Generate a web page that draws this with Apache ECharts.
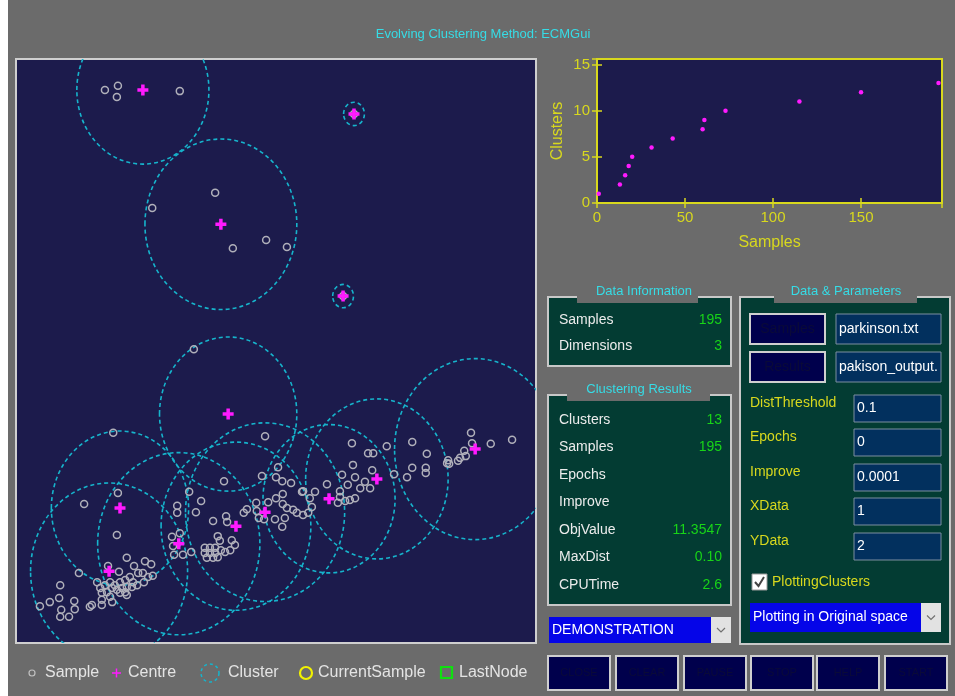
<!DOCTYPE html>
<html>
<head>
<meta charset="utf-8">
<title>ECMGui</title>
<script src="https://cdn.jsdelivr.net/npm/echarts@6/dist/echarts.min.js"></script>
<style>
  html, body { margin: 0; padding: 0; background: #fff; }
  #chart { width: 955px; height: 696px; }
</style>
</head>
<body>
<div id="chart"></div>
<script>
// samples (normalised feature 1 / feature 2)
const sampleX = [
  0.171, 0.196, 0.194, 0.315, 0.383, 0.262, 0.417, 0.481, 0.521, 0.650, 0.629, 0.342, 0.187, 0.479,
  0.196, 0.131, 0.194, 0.400, 0.333, 0.356, 0.310, 0.310, 0.346, 0.379, 0.404, 0.406, 0.300, 0.315,
  0.302, 0.304, 0.321, 0.337, 0.388, 0.392, 0.415, 0.421, 0.412, 0.363, 0.373, 0.383, 0.363, 0.373,
  0.383, 0.394, 0.402, 0.367, 0.379, 0.388,
  0.473, 0.500, 0.504, 0.512, 0.529, 0.462, 0.485, 0.500, 0.513, 0.513, 0.521, 0.533, 0.540, 0.552,
  0.562, 0.550, 0.438, 0.444, 0.463, 0.467, 0.477, 0.498, 0.517, 0.512,
  0.213, 0.248, 0.260, 0.227, 0.177, 0.121, 0.198, 0.219, 0.235, 0.244, 0.254, 0.263, 0.225, 0.246,
  0.156, 0.162, 0.171, 0.181, 0.190, 0.200, 0.210, 0.165, 0.175, 0.185, 0.194, 0.204, 0.213, 0.223,
  0.233, 0.200, 0.210, 0.181, 0.165, 0.185, 0.213, 0.085, 0.083, 0.065, 0.046, 0.112, 0.113, 0.087,
  0.085, 0.102, 0.146, 0.142, 0.165,
  0.646, 0.713, 0.762, 0.677, 0.687, 0.790, 0.648, 0.685, 0.727, 0.762, 0.752, 0.788, 0.788, 0.627,
  0.652, 0.671, 0.662, 0.681, 0.638, 0.598, 0.623, 0.623, 0.552, 0.575, 0.565, 0.652, 0.642, 0.633,
  0.619, 0.569,
  0.875, 0.877, 0.913, 0.954, 0.862, 0.865, 0.854, 0.850, 0.831, 0.833, 0.829
];
const sampleY = [
  0.947, 0.954, 0.935, 0.945, 0.771, 0.745, 0.676, 0.690, 0.678, 0.906, 0.594, 0.503, 0.360, 0.354,
  0.257, 0.238, 0.185, 0.277, 0.259, 0.243, 0.235, 0.223, 0.224, 0.209, 0.217, 0.207, 0.182, 0.188,
  0.166, 0.151, 0.151, 0.156, 0.183, 0.175, 0.176, 0.168, 0.159, 0.163, 0.163, 0.163, 0.154, 0.154,
  0.154, 0.159, 0.156, 0.146, 0.146, 0.147,
  0.286, 0.284, 0.301, 0.277, 0.274, 0.240, 0.241, 0.248, 0.255, 0.238, 0.231, 0.228, 0.223, 0.219,
  0.223, 0.259, 0.223, 0.229, 0.226, 0.214, 0.212, 0.212, 0.214, 0.199,
  0.146, 0.140, 0.135, 0.132, 0.132, 0.120, 0.122, 0.113, 0.120, 0.120, 0.113, 0.115, 0.104, 0.104,
  0.104, 0.094, 0.099, 0.104, 0.099, 0.104, 0.108, 0.086, 0.087, 0.094, 0.091, 0.094, 0.096, 0.096,
  0.099, 0.086, 0.087, 0.079, 0.074, 0.070, 0.082, 0.099, 0.077, 0.070, 0.063, 0.072, 0.058, 0.057,
  0.045, 0.045, 0.065, 0.062, 0.065,
  0.342, 0.337, 0.344, 0.325, 0.325, 0.324, 0.305, 0.296, 0.289, 0.300, 0.284, 0.300, 0.291, 0.288,
  0.284, 0.276, 0.265, 0.265, 0.271, 0.272, 0.260, 0.250, 0.260, 0.259, 0.248, 0.248, 0.245, 0.243,
  0.240, 0.233,
  0.360, 0.342, 0.341, 0.348, 0.329, 0.320, 0.317, 0.312, 0.313, 0.307, 0.308
];

// cluster centres + radius
const centreX = [0.244, 0.394, 0.650, 0.629, 0.408, 0.200, 0.179, 0.313, 0.423, 0.479, 0.602, 0.694, 0.883];
const centreY = [0.947, 0.717, 0.906, 0.594, 0.392, 0.231, 0.123, 0.170, 0.200, 0.224, 0.247, 0.281, 0.332];
const clusterRadius = [0.127, 0.146, 0.020, 0.020, 0.132, 0.132, 0.151, 0.156, 0.144, 0.153, 0.127, 0.137, 0.155];

// clusters created vs samples seen
const growthSamples = [1, 13, 16, 18, 20, 31, 43, 60, 61, 73, 115, 150, 194];
const growthClusters = [1, 2, 3, 4, 5, 6, 7, 8, 9, 10, 11, 12, 13];

// panel texts
const infoLabels = ['Samples', 'Dimensions'];
const infoValues = ['195', '3'];
const resultLabels = ['Clusters', 'Samples', 'Epochs', 'Improve', 'ObjValue', 'MaxDist', 'CPUTime'];
const resultValues = ['13', '195', '', '', '11.3547', '0.10', '2.6'];
const paramLabels = ['DistThreshold', 'Epochs', 'Improve', 'XData', 'YData'];
const paramValues = ['0.1', '0', '0.0001', '1', '2'];
const buttonLabels = ['CLOSE', 'CLEAR', 'PAUSE', 'STOP', 'HELP', 'START'];

const GRAY = '#6b6b6b';
const NAVY = '#1c1b4c';
const PANEL = '#033c33';
const CYAN = '#36dce6';
const YEL = '#d8d81e';
const GREEN = '#18d418';
const MAG = '#ff1aff';
const FONT = '"Liberation Sans", Arial, sans-serif';
const PLUS = 'path://M3.4,0H6.6V3.4H10V6.6H6.6V10H3.4V6.6H0V3.4H3.4Z';

function txt(x, y, text, color, size, align) {
  const a = align || 'left';
  return {
    type: 'text', x, y, silent: true,
    style: { text, fill: color, font: size + 'px ' + FONT,
      align: a, verticalAlign: 'middle', textAlign: a, textVerticalAlign: 'middle' },
  };
}

function seg(x1, y1, x2, y2, color, w) {
  return { type: 'line', silent: true, shape: { x1, y1, x2, y2 }, style: { stroke: color, lineWidth: w } };
}

function panel(x, y, w, h, title, tabX, tabW, titleX) {
  return [
    { type: 'rect', shape: { x, y, width: w, height: h }, style: { fill: PANEL, stroke: '#c8c8c8', lineWidth: 2 } },
    { type: 'rect', shape: { x: tabX, y: y - 15, width: tabW, height: 21 }, style: { fill: GRAY } },
    txt(titleX, y - 6, title, CYAN, 13, 'center'),
  ];
}

function button(x, y, w, h, label, size) {
  return [
    { type: 'rect', shape: { x, y, width: w, height: h }, style: { fill: '#00004c', stroke: '#cfcfcf', lineWidth: 2 } },
    txt(x + w / 2, y + h / 2, label, '#0a0a38', size, 'center'),
  ];
}

function editBox(x, y, w, h, value) {
  return [
    { type: 'rect', shape: { x, y, width: w, height: h }, style: { fill: '#02305e', stroke: '#7d8ea0', lineWidth: 1 } },
    {
      type: 'text', x: x + 3, y: y + h / 2, silent: true,
      style: { text: value, fill: '#ffffff', font: '14px ' + FONT, width: w - 4, overflow: 'truncate', ellipsis: '',
        align: 'left', verticalAlign: 'middle', textAlign: 'left', textVerticalAlign: 'middle' },
    },
  ];
}

function dropDown(x, y, w, h, label) {
  return [
    { type: 'rect', shape: { x, y, width: w - 20, height: h }, style: { fill: '#0505e8' } },
    { type: 'rect', shape: { x: x + w - 20, y, width: 20, height: h }, style: { fill: '#e2e2e2' } },
    { type: 'polyline', shape: { points: [[x + w - 14, y + h / 2 - 2], [x + w - 10, y + h / 2 + 2], [x + w - 6, y + h / 2 - 2]] },
      style: { stroke: '#707070', lineWidth: 1.2, fill: 'none' } },
    txt(x + 3, y + h / 2, label, '#ffffff', 14, 'left'),
  ];
}

const elements = [];
elements.push({ type: 'rect', shape: { x: 0, y: 0, width: 8, height: 696 }, style: { fill: '#ffffff' } });
elements.push(txt(483, 34, 'Evolving Clustering Method: ECMGui', CYAN, 13, 'center'));

// Data Information
elements.push(...panel(548, 297, 183, 69, 'Data Information', 577, 121, 644));
infoLabels.forEach((l, i) => {
  elements.push(txt(559, 320 + i * 26, l, '#ececec', 14));
  elements.push(txt(722, 320 + i * 26, infoValues[i], GREEN, 14, 'right'));
});

// Clustering Results
elements.push(...panel(548, 395, 183, 210, 'Clustering Results', 567, 143, 639));
resultLabels.forEach((l, i) => {
  const y = 420 + i * 27.5;
  elements.push(txt(559, y, l, '#ececec', 14));
  elements.push(txt(722, y, resultValues[i], GREEN, 14, 'right'));
});
elements.push(...dropDown(549, 617, 182, 26, 'DEMONSTRATION'));

// Data & Parameters
elements.push(...panel(740, 297, 210, 347, 'Data & Parameters', 774, 143, 846));
elements.push(...button(750, 314, 75, 30, 'Samples', 14));
elements.push(...editBox(836, 314, 105, 30, 'parkinson.txt'));
elements.push(...button(750, 352, 75, 30, 'Results', 14));
elements.push(...editBox(836, 352, 105, 30, 'pakison_output.txt'));
paramLabels.forEach((l, i) => {
  const top = [395, 429, 464, 498, 533][i];
  elements.push(txt(750, top + 8, l, YEL, 14));
  elements.push(...editBox(854, top, 87, 27, paramValues[i]));
});
elements.push({ type: 'rect', shape: { x: 752, y: 574, width: 15, height: 16 }, style: { fill: '#ffffff', stroke: '#9a9a9a', lineWidth: 1 } });
elements.push({ type: 'polyline', shape: { points: [[755, 582], [758.5, 586], [764, 577]] }, style: { stroke: '#444', lineWidth: 2, fill: 'none' } });
elements.push(txt(772, 582, 'PlottingClusters', YEL, 14));
elements.push(...dropDown(750, 603, 191, 29, 'Plotting in Original space'));

// bottom legend
elements.push({ type: 'circle', shape: { cx: 32, cy: 673, r: 3 }, style: { fill: 'none', stroke: '#c0c0c0', lineWidth: 1.2 } });
elements.push(txt(45, 673, 'Sample', '#e4e4e4', 16));
elements.push(seg(112, 673, 121, 673, MAG, 1.5));
elements.push(seg(116.5, 668.5, 116.5, 677.5, MAG, 1.5));
elements.push(txt(128, 673, 'Centre', '#e4e4e4', 16));
elements.push({ type: 'circle', shape: { cx: 210, cy: 673, r: 9 }, style: { fill: 'none', stroke: '#16b4cc', lineWidth: 1.5, lineDash: [3, 3] } });
elements.push(txt(228, 673, 'Cluster', '#e4e4e4', 16));
elements.push({ type: 'circle', shape: { cx: 306, cy: 673, r: 6 }, style: { fill: 'none', stroke: '#f2f200', lineWidth: 2.2 } });
elements.push(txt(318, 673, 'CurrentSample', '#e4e4e4', 16));
elements.push({ type: 'rect', shape: { x: 441, y: 667, width: 11, height: 11 }, style: { fill: 'none', stroke: '#10e010', lineWidth: 2.2 } });
elements.push(txt(459, 673, 'LastNode', '#e4e4e4', 16));

// bottom buttons
const buttonLeft = [548, 616, 684, 751, 817, 885];
buttonLabels.forEach((l, i) => elements.push(...button(buttonLeft[i], 656, 62, 34, l, 11)));

function renderCluster(params, api) {
  const c = api.coord([api.value(0), api.value(1)]);
  const s = api.size([api.value(2), api.value(2)]);
  return {
    type: 'ellipse',
    shape: { cx: c[0], cy: c[1], rx: s[0], ry: s[1] },
    style: { fill: 'none', stroke: '#16b4cc', lineWidth: 1.6, lineDash: [4, 3] },
  };
}

const tickStyle = { show: true, inside: true, length: 5, lineStyle: { color: YEL, width: 1.5 } };

const option = {
  backgroundColor: GRAY,
  animation: false,
  grid: [
    { left: 16, top: 59, width: 520, height: 584, show: true, backgroundColor: NAVY,
      borderColor: '#cfcfcf', borderWidth: 2, outerBoundsMode: 'none' },
    { left: 597, top: 59, width: 345, height: 144, show: true, backgroundColor: NAVY,
      borderColor: YEL, borderWidth: 2, outerBoundsMode: 'none' },
  ],
  xAxis: [
    { gridIndex: 0, type: 'value', min: 0, max: 1, show: false },
    {
      gridIndex: 1, type: 'value', min: 0, max: 196, interval: 50,
      name: 'Samples', nameLocation: 'middle', nameGap: 32,
      nameTextStyle: { color: YEL, fontSize: 16, fontFamily: FONT },
      axisLine: { show: false }, axisTick: tickStyle, splitLine: { show: false },
      axisLabel: { color: YEL, fontSize: 15, fontFamily: FONT, margin: 7,
        formatter: (v) => (v % 50 === 0 ? String(v) : '') },
    },
    {
      gridIndex: 1, type: 'value', min: 0, max: 196, interval: 50, position: 'top',
      axisLine: { show: false }, axisTick: tickStyle, axisLabel: { show: false }, splitLine: { show: false },
    },
  ],
  yAxis: [
    { gridIndex: 0, type: 'value', min: 0, max: 1, show: false },
    {
      gridIndex: 1, type: 'value', min: 0, max: 15.6, interval: 5,
      name: 'Clusters', nameLocation: 'middle', nameGap: 31, nameRotate: 90,
      nameTextStyle: { color: YEL, fontSize: 16, fontFamily: FONT },
      axisLine: { show: false }, axisTick: tickStyle, splitLine: { show: false },
      axisLabel: { color: YEL, fontSize: 15, fontFamily: FONT, margin: 7,
        formatter: (v) => (v % 5 === 0 ? String(v) : '') },
    },
    {
      gridIndex: 1, type: 'value', min: 0, max: 15.6, interval: 5, position: 'right',
      axisLine: { show: false }, axisTick: tickStyle, axisLabel: { show: false }, splitLine: { show: false },
    },
  ],
  series: [
    {
      type: 'custom', xAxisIndex: 0, yAxisIndex: 0, clip: true, silent: true,
      renderItem: renderCluster, encode: { x: 0, y: 1 },
      data: centreX.map((x, i) => [x, centreY[i], clusterRadius[i]]),
      z: 2,
    },
    {
      type: 'scatter', xAxisIndex: 0, yAxisIndex: 0, silent: true,
      symbol: 'circle', symbolSize: 7,
      itemStyle: { color: 'rgba(0,0,0,0)', borderColor: '#b0b0ba', borderWidth: 1.5, opacity: 1 },
      data: sampleX.map((x, i) => [x, sampleY[i]]),
      z: 3,
    },
    {
      type: 'scatter', xAxisIndex: 0, yAxisIndex: 0, silent: true,
      symbol: PLUS, symbolSize: 11, itemStyle: { color: MAG, opacity: 1 },
      data: centreX.map((x, i) => [x, centreY[i]]),
      z: 4,
    },
    {
      type: 'scatter', xAxisIndex: 1, yAxisIndex: 1, silent: true,
      symbol: 'circle', symbolSize: 4.5, itemStyle: { color: MAG, opacity: 1 },
      data: growthSamples.map((s, i) => [s, growthClusters[i]]),
    },
  ],
  graphic: { elements },
};

const chart = echarts.init(document.getElementById('chart'), null, { renderer: 'canvas' });
chart.setOption(option);
</script>
</body>
</html>
